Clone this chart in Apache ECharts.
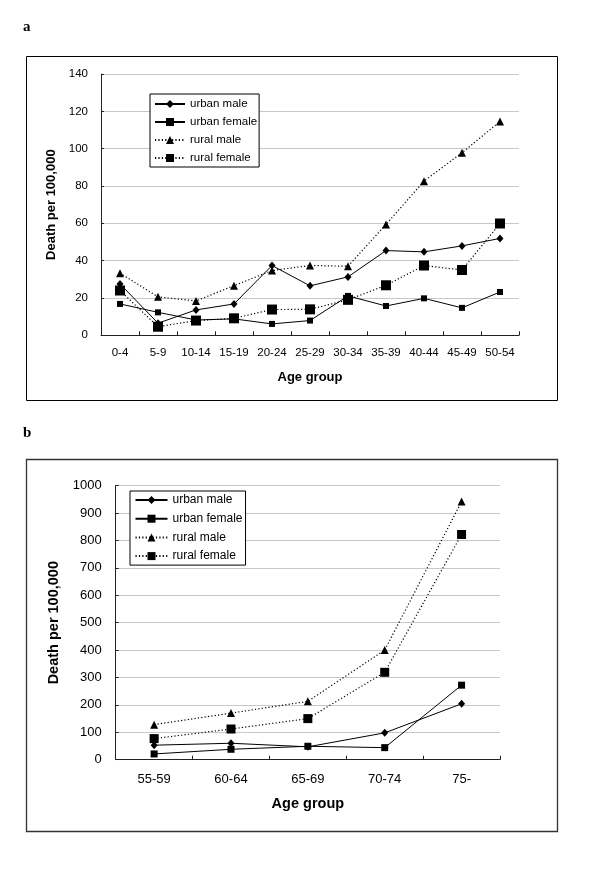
<!DOCTYPE html>
<html>
<head>
<meta charset="utf-8">
<script src="https://cdn.jsdelivr.net/npm/echarts@6/dist/echarts.min.js"></script>
<style>
html,body{margin:0;padding:0;background:#fff;}
#c{width:600px;height:871px;}
</style>
</head>
<body>
<div id="c"></div>
<script>
// ---- Data ----
var ageGroupsA = ['0-4','5-9','10-14','15-19','20-24','25-29','30-34','35-39','40-44','45-49','50-54'];
var urbanMaleA   = [27.5, 6.5, 13.6, 16.8, 37.4, 26.5, 31.3, 45.4, 44.7, 47.9, 51.9];
var urbanFemaleA = [16.8, 12.3, 8.2, 8.8, 6.1, 7.9, 21.1, 15.7, 19.8, 14.7, 23.2];
var ruralMaleA   = [33.3, 20.6, 18.4, 26.6, 34.7, 37.4, 37.0, 59.4, 82.6, 97.8, 114.6];
var ruralFemaleA = [24.0, 4.6, 7.9, 9.1, 13.8, 13.9, 19.0, 26.8, 37.4, 35.0, 59.9];

var ageGroupsB = ['55-59','60-64','65-69','70-74','75-'];
var urbanMaleB   = [53, 60, 47, 98, 204];
var urbanFemaleB = [21, 38, 49, 44, 272];
var ruralMaleB   = [128, 170, 213, 400, 942];
var ruralFemaleB = [77, 112, 150, 319, 822];

var seriesNames = ['urban male','urban female','rural male','rural female'];
var yTicksA = {min: 0, max: 140, interval: 20};
var yTicksB = {min: 0, max: 1000, interval: 100};

// ---- Chart ----
var FONT = 'Liberation Sans, Arial, sans-serif';
var chart = echarts.init(document.getElementById('c'), null, {renderer: 'canvas'});

function catAxis(gridIndex, data, fs, margin, nameSize, nameGap) {
  return {
    type: 'category', gridIndex: gridIndex, data: data, boundaryGap: true,
    name: 'Age group', nameLocation: 'middle', nameGap: nameGap,
    nameTextStyle: {fontFamily: FONT, fontWeight: 'bold', fontSize: nameSize, color: '#000'},
    axisLine: {show: true, lineStyle: {color: '#222', width: 1}},
    axisTick: {show: true, inside: true, length: 4, interval: 0, alignWithLabel: false, lineStyle: {color: '#222'}},
    axisLabel: {fontFamily: FONT, fontSize: fs, color: '#000', margin: margin, interval: 0},
    splitLine: {show: false}
  };
}
function valAxis(gridIndex, t, fs, margin, nameSize, nameGap) {
  return {
    type: 'value', gridIndex: gridIndex, min: t.min, max: t.max, interval: t.interval,
    name: 'Death per 100,000', nameLocation: 'middle', nameGap: nameGap, nameRotate: 90,
    nameTextStyle: {fontFamily: FONT, fontWeight: 'bold', fontSize: nameSize, color: '#000'},
    axisLine: {show: true, lineStyle: {color: '#222', width: 1}},
    axisTick: {show: true, inside: true, length: 3, lineStyle: {color: '#222'}},
    axisLabel: {fontFamily: FONT, fontSize: fs, color: '#000', margin: margin,
      formatter: function (v) { return String(v); }},
    splitLine: {show: true, lineStyle: {color: '#c8c8c8', width: 1}}
  };
}
function mkSeries(name, data, idx, symbol, size, dotted) {
  return {
    name: name, type: 'line', xAxisIndex: idx, yAxisIndex: idx, data: data,
    symbol: symbol, symbolSize: size, showSymbol: true, animation: false,
    itemStyle: {color: '#000', borderWidth: 0},
    lineStyle: {color: '#000', width: dotted ? 1.2 : 1, type: dotted ? [1.2, 2.2] : 'solid'},
    emphasis: {disabled: true}
  };
}
function legend(left, top, fs, itemWidth, gap, pad) {
  return {
    orient: 'vertical', left: left, top: top, data: seriesNames,
    itemWidth: itemWidth, itemHeight: 10, itemGap: gap, padding: pad,
    backgroundColor: '#fff', borderColor: '#000', borderWidth: 1, borderRadius: 0,
    textStyle: {fontFamily: FONT, fontSize: fs, color: '#000'},
    selectedMode: false
  };
}

var option = {
  backgroundColor: '#fff',
  animation: false,
  graphic: [
    {type: 'rect', shape: {x: 26.5, y: 56.5, width: 531, height: 344}, style: {fill: 'none', stroke: '#000', lineWidth: 1}, z: 0, silent: true},
    {type: 'rect', shape: {x: 26.5, y: 459.5, width: 531, height: 372}, style: {fill: 'none', stroke: '#333', lineWidth: 1.3}, z: 0, silent: true},
    {type: 'text', left: 23, top: 20, style: {text: 'a', font: 'bold 15px "Liberation Serif", "DejaVu Serif", serif', fill: '#000'}, silent: true},
    {type: 'text', left: 23, top: 426, style: {text: 'b', font: 'bold 15px "Liberation Serif", "DejaVu Serif", serif', fill: '#000'}, silent: true}
  ],
  grid: [
    {left: 101, top: 74, width: 418, height: 261.3, containLabel: false},
    {left: 115.7, top: 485.7, width: 384.3, height: 274, containLabel: false}
  ],
  xAxis: [
    catAxis(0, ageGroupsA, 11.5, 12, 13, 36),
    catAxis(1, ageGroupsB, 13, 13, 14.5, 37)
  ],
  yAxis: [
    valAxis(0, yTicksA, 11.5, 13, 13, 36),
    valAxis(1, yTicksB, 13, 14, 14.5, 52)
  ],
  legend: [
    legend(150, 94, 11.5, 30, 6, [4, 2, 3, 4]),
    legend(130, 491, 12, 32, 6.7, [3, 3, 3, 4.5])
  ],
  series: [
    mkSeries('urban male', urbanMaleA, 0, 'diamond', [7, 8], false),
    mkSeries('urban female', urbanFemaleA, 0, 'rect', 6, false),
    mkSeries('rural male', ruralMaleA, 0, 'triangle', 8, true),
    mkSeries('rural female', ruralFemaleA, 0, 'rect', 10, true),
    mkSeries('urban male', urbanMaleB, 1, 'diamond', [7, 8], false),
    mkSeries('urban female', urbanFemaleB, 1, 'rect', 7, false),
    mkSeries('rural male', ruralMaleB, 1, 'triangle', 8, true),
    mkSeries('rural female', ruralFemaleB, 1, 'rect', 9, true)
  ]
};
chart.setOption(option);
</script>
</body>
</html>
